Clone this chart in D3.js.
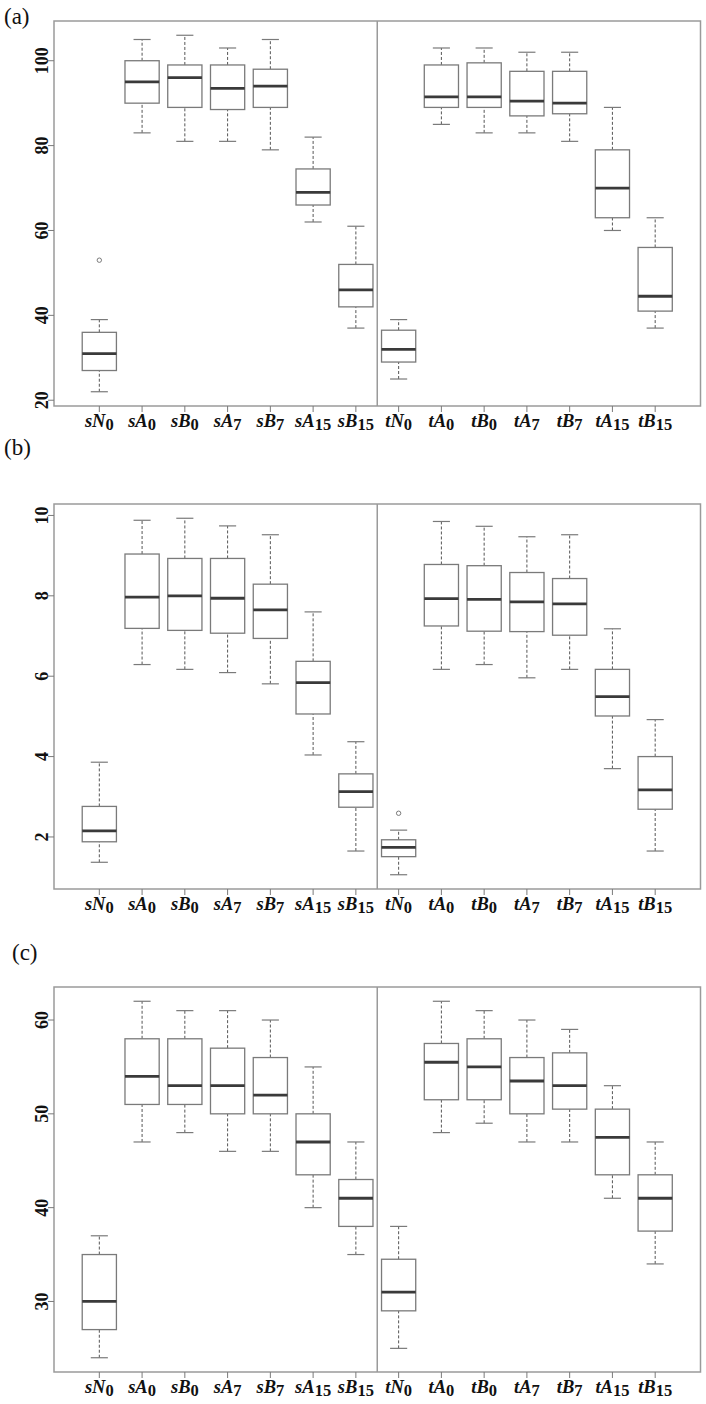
<!DOCTYPE html>
<html><head><meta charset="utf-8">
<script src="https://cdn.jsdelivr.net/npm/d3@7"></script>
<style>html,body{margin:0;padding:0;background:#fff;} svg{display:block;}</style>
</head><body>
<svg id="chart" width="706" height="1404"></svg>
<script>
// ---- categories ----
const catMain = ["sN","sA","sB","sA","sB","sA","sB","tN","tA","tB","tA","tB","tA","tB"];
const catSub  = ["0","0","0","7","7","15","15","0","0","0","7","7","15","15"];

// ---- panel (a) ----
const aLow  = [22,83,81,81,79,62,37,25,85,83,83,81,60,37];
const aQ1   = [27,90,89,88.5,89,66,42,29,89,89,87,87.5,63,41];
const aMed  = [31,95,96,93.5,94,69,46,32,91.5,91.5,90.5,90,70,44.5];
const aQ3   = [36,100,99,99,98,74.5,52,36.5,99,99.5,97.5,97.5,79,56];
const aHigh = [39,105,106,103,105,82,61,39,103,103,102,102,89,63];
const aOut  = [[0,53]];
const aTicks = [20,40,60,80,100];

// ---- panel (b) ----
const bLow  = [1.37,6.29,6.17,6.09,5.81,4.04,1.65,1.06,6.17,6.29,5.96,6.17,3.70,1.65];
const bQ1   = [1.88,7.19,7.14,7.07,6.94,5.06,2.74,1.51,7.25,7.12,7.11,7.02,5.01,2.69];
const bMed  = [2.15,7.97,8.00,7.94,7.65,5.84,3.13,1.74,7.93,7.91,7.85,7.80,5.49,3.17];
const bQ3   = [2.76,9.04,8.93,8.93,8.29,6.37,3.57,1.93,8.78,8.75,8.58,8.43,6.17,4.00];
const bHigh = [3.86,9.88,9.93,9.74,9.52,7.60,4.37,2.17,9.85,9.73,9.47,9.52,7.18,4.92];
const bOut  = [[7,2.59]];
const bTicks = [2,4,6,8,10];

// ---- panel (c) ----
const cLow  = [24,47,48,46,46,40,35,25,48,49,47,47,41,34];
const cQ1   = [27,51,51,50,50,43.5,38,29,51.5,51.5,50,50.5,43.5,37.5];
const cMed  = [30,54,53,53,52,47,41,31,55.5,55,53.5,53,47.5,41];
const cQ3   = [35,58,58,57,56,50,43,34.5,57.5,58,56,56.5,50.5,43.5];
const cHigh = [37,62,61,61,60,55,47,38,62,61,60,59,53,47];
const cOut  = [];
const cTicks = [30,40,50,60];

const panelLabels = ["(a)","(b)","(c)"];

// ---- layout ----
const panels = [
  {label:panelLabels[0], low:aLow,q1:aQ1,med:aMed,q3:aQ3,high:aHigh,out:aOut,ticks:aTicks, top:21,  lx:4,  ly:24},
  {label:panelLabels[1], low:bLow,q1:bQ1,med:bMed,q3:bQ3,high:bHigh,out:bOut,ticks:bTicks, top:504, lx:4,  ly:455},
  {label:panelLabels[2], low:cLow,q1:cQ1,med:cMed,q3:cQ3,high:cHigh,out:cOut,ticks:cTicks, top:987, lx:12, ly:960}
];
const H = 385, L = 54, R = 700.5;
const serif = "'Liberation Serif','Times New Roman',Times,serif";
const boxCol = "#7a7a7a", medCol = "#3a3a3a", frameCol = "#9a9a9a";

const svg = d3.select("#chart");
const n = catMain.length;
const x = d3.scaleLinear().domain([0.5 - 0.04*n, n + 0.5 + 0.04*n]).range([L, R]);
const bw = x(0.8) - x(0);

panels.forEach(p => {
  const vals = p.low.concat(p.high, p.out.map(o => o[1]));
  const mn = d3.min(vals), mx = d3.max(vals), pad = (mx - mn) * 0.04;
  const y = d3.scaleLinear().domain([mn - pad, mx + pad]).range([p.top + H, p.top]);
  const g = svg.append("g");

  // panel label
  g.append("text").attr("x", p.lx).attr("y", p.ly)
    .attr("font-family", serif).attr("font-size", 23).attr("fill", "#111").text(p.label);

  // frame
  g.append("rect").attr("x", L).attr("y", p.top).attr("width", R - L).attr("height", H)
    .attr("fill", "none").attr("stroke", frameCol).attr("stroke-width", 1.5);
  // divider
  const xd = (x(7) + x(8)) / 2;
  g.append("line").attr("x1", xd).attr("x2", xd).attr("y1", p.top).attr("y2", p.top + H)
    .attr("stroke", frameCol).attr("stroke-width", 1.5);

  // y axis ticks & labels
  p.ticks.forEach(t => {
    g.append("line").attr("x1", L - 6).attr("x2", L).attr("y1", y(t)).attr("y2", y(t))
      .attr("stroke", boxCol).attr("stroke-width", 1);
    g.append("text").attr("transform", `translate(47.5,${y(t)}) rotate(-90)`)
      .attr("text-anchor", "middle").attr("font-family", serif).attr("font-weight", "bold")
      .attr("font-size", 18).attr("fill", "#111").text(t);
  });

  // x ticks & labels
  for (let i = 0; i < n; i++) {
    const cx = x(i + 1);
    g.append("line").attr("x1", cx).attr("x2", cx).attr("y1", p.top + H).attr("y2", p.top + H + 6)
      .attr("stroke", boxCol).attr("stroke-width", 1);
    const t = g.append("text").attr("x", cx).attr("y", p.top + H + 21)
      .attr("text-anchor", "middle").attr("font-family", serif).attr("font-weight", "bold")
      .attr("fill", "#111");
    t.append("tspan").attr("font-style", "italic").attr("font-size", 18.5).text(catMain[i]);
    t.append("tspan").attr("font-size", 16.5).attr("dy", 3).text(catSub[i]);
  }

  // boxes
  for (let i = 0; i < n; i++) {
    const cx = x(i + 1);
    [[p.low[i], p.q1[i]], [p.q3[i], p.high[i]]].forEach(([a, b]) => {
      g.append("line").attr("x1", cx).attr("x2", cx).attr("y1", y(a)).attr("y2", y(b))
        .attr("stroke", "#555").attr("stroke-width", 1).attr("stroke-dasharray", "3,2");
    });
    [p.low[i], p.high[i]].forEach(v => {
      g.append("line").attr("x1", cx - bw/4).attr("x2", cx + bw/4).attr("y1", y(v)).attr("y2", y(v))
        .attr("stroke", boxCol).attr("stroke-width", 1.2);
    });
    g.append("rect").attr("x", cx - bw/2).attr("y", y(p.q3[i])).attr("width", bw)
      .attr("height", y(p.q1[i]) - y(p.q3[i]))
      .attr("fill", "#fff").attr("stroke", boxCol).attr("stroke-width", 1.3);
    g.append("line").attr("x1", cx - bw/2).attr("x2", cx + bw/2).attr("y1", y(p.med[i])).attr("y2", y(p.med[i]))
      .attr("stroke", medCol).attr("stroke-width", 2.8);
  }
  p.out.forEach(([i, v]) => {
    g.append("circle").attr("cx", x(i + 1)).attr("cy", y(v)).attr("r", 2.2)
      .attr("fill", "none").attr("stroke", boxCol).attr("stroke-width", 1);
  });
});
</script>
</body></html>
